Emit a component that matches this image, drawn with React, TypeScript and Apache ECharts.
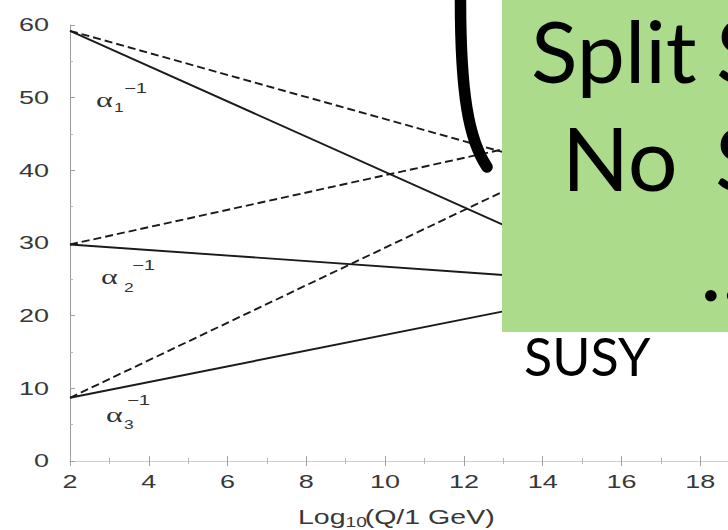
import React, { useEffect, useRef } from "react";
import * as echarts from "echarts";

// log10(Q / 1 GeV) at the two ends of each running line
const logQ = [2, 13];

// inverse couplings, Standard Model (solid) and SUSY (dashed)
const alpha1SM = [59.2, 32.5];
const alpha1SUSY = [59.2, 42.5];
const alpha2SM = [29.8, 25.6];
const alpha2SUSY = [29.8, 42.9];
const alpha3SM = [8.7, 20.6];
const alpha3SUSY = [8.7, 37.1];

const xTickLabels = [2, 4, 6, 8, 10, 12, 14, 16, 18];
const yTickLabels = [0, 10, 20, 30, 40, 50, 60];

const LINE_COLOR = "#1a1a1a";
const LABEL_COLOR = "#383838";
const STRETCH = 1.5;

// the plot runs on past the right edge of the visible frame
const CHART_WIDTH = 800;
const CHART_HEIGHT = 530;

const pairs = (ys: number[]) => logQ.map((x, i) => [x, ys[i]]);

const lineSeries = (name: string, ys: number[], dashed: boolean) => ({
  name,
  type: "line",
  data: pairs(ys),
  symbol: "none",
  silent: true,
  lineStyle: {
    color: LINE_COLOR,
    width: 1.9,
    type: dashed ? [8, 4] : "solid",
  },
  z: 2,
});

const axisBase = {
  type: "value",
  axisLine: { show: true, lineStyle: { color: "#b4b4b4", width: 1 } },
  axisTick: { show: true, inside: true, length: 5, lineStyle: { color: "#a0a0a0" } },
  minorTick: { show: true, splitNumber: 2, length: 3, lineStyle: { color: "#b8b8b8" } },
  axisLabel: { show: false },
  splitLine: { show: false },
};

function alphaLabel(x: number, y: number, sub: string, subDx: number, subDy: number, supDx: number, supDy: number) {
  return {
    type: "group",
    x,
    y,
    scaleX: 1.45,
    z: 10,
    children: [
      {
        type: "text",
        x: 0,
        y: 0,
        style: {
          text: "α",
          fontSize: 22,
          fontFamily: "Liberation Serif",
          fill: "#333",
          align: "left",
          verticalAlign: "middle",
        },
      },
      {
        type: "text",
        x: subDx,
        y: subDy,
        style: {
          text: sub,
          fontSize: 12,
          fontFamily: "Liberation Sans",
          fill: "#333",
          align: "left",
          verticalAlign: "middle",
        },
      },
      {
        type: "text",
        x: supDx,
        y: supDy,
        style: {
          text: "−1",
          fontSize: 14,
          fontFamily: "Liberation Sans",
          fill: "#333",
          align: "left",
          verticalAlign: "middle",
        },
      },
    ],
  };
}

export default function App() {
  const ref = useRef<HTMLDivElement>(null);

  useEffect(() => {
    if (!ref.current) return;
    const chart = echarts.init(ref.current, null, { renderer: "svg" });

    chart.setOption({
      animation: false,
      backgroundColor: "#ffffff",
      grid: { left: 70, right: 21, top: 25, bottom: 69 },
      xAxis: [
        { ...axisBase, position: "bottom", min: 2, max: 20, interval: 2 },
        { ...axisBase, position: "top", min: 2, max: 20, interval: 2, axisLine: { show: true, lineStyle: { color: "#cfcfcf" } } },
      ],
      yAxis: [
        { ...axisBase, position: "left", min: 0, max: 60, interval: 10, axisLine: { show: true, lineStyle: { color: "#9a9a9a" } } },
        { ...axisBase, position: "right", min: 0, max: 60, interval: 10 },
      ],
      series: [
        lineSeries("α1 SM", alpha1SM, false),
        lineSeries("α1 SUSY", alpha1SUSY, true),
        lineSeries("α2 SM", alpha2SM, false),
        lineSeries("α2 SUSY", alpha2SUSY, true),
        lineSeries("α3 SM", alpha3SM, false),
        lineSeries("α3 SUSY", alpha3SUSY, true),
      ],
    });

    const elements: any[] = [];

    // tick labels placed through the axis scales, drawn horizontally stretched
    const axisY0 = chart.convertToPixel({ yAxisIndex: 0 }, 0) as number;
    const axisX0 = chart.convertToPixel({ xAxisIndex: 0 }, 2) as number;
    xTickLabels.forEach((v) => {
      const px = chart.convertToPixel({ xAxisIndex: 0 }, v) as number;
      elements.push({
        type: "text",
        x: px,
        y: axisY0 + 21,
        scaleX: STRETCH,
        z: 10,
        style: {
          text: String(v),
          fontSize: 18,
          fontFamily: "Liberation Sans",
          fill: LABEL_COLOR,
          align: "center",
          verticalAlign: "middle",
        },
      });
    });
    yTickLabels.forEach((v) => {
      const py = chart.convertToPixel({ yAxisIndex: 0 }, v) as number;
      elements.push({
        type: "text",
        x: axisX0 - 21,
        y: py,
        scaleX: STRETCH,
        z: 10,
        style: {
          text: String(v),
          fontSize: 18,
          fontFamily: "Liberation Sans",
          fill: LABEL_COLOR,
          align: "right",
          verticalAlign: "middle",
        },
      });
    });

    // x axis title: Log10(Q/1 GeV)
    const nameFont = { fontFamily: "Liberation Sans", fill: LABEL_COLOR, align: "left", verticalAlign: "middle" };
    elements.push({
      type: "group",
      x: 298,
      y: 516,
      scaleX: 1.36,
      z: 10,
      children: [
        { type: "text", x: 0, y: 0, style: { ...nameFont, text: "Log", fontSize: 21 } },
        { type: "text", x: 35, y: 6, style: { ...nameFont, text: "10", fontSize: 14 } },
        { type: "text", x: 49, y: 0, style: { ...nameFont, text: "(Q/1 GeV)", fontSize: 21 } },
      ],
    });

    // coupling labels
    elements.push(alphaLabel(96, 100, "1", 12.4, 8, 19.3, -12));
    elements.push(alphaLabel(101, 277, "2", 15.9, 11, 21.4, -12));
    elements.push(alphaLabel(106, 415, "3", 12.4, 10, 14.5, -15));

    // green callout box with its caption
    elements.push({
      type: "rect",
      z: 20,
      shape: { x: 502, y: -5, width: 240, height: 337 },
      style: { fill: "#acdb8b" },
    });
    const calloutFont = { fontFamily: "Lato", fill: "#000000", align: "left", verticalAlign: "middle" };
    elements.push({ type: "text", z: 21, x: 531, y: 49, style: { ...calloutFont, text: "Split", fontSize: 86 } });
    elements.push({ type: "text", z: 21, x: 716, y: 49, style: { ...calloutFont, text: "S", fontSize: 88 } });
    elements.push({ type: "text", z: 21, x: 562, y: 157, style: { ...calloutFont, text: "No", fontSize: 88 } });
    elements.push({ type: "text", z: 21, x: 715, y: 157, style: { ...calloutFont, text: "S", fontSize: 88 } });
    elements.push({ type: "text", z: 21, x: 700, y: 265, style: { ...calloutFont, text: "...", fontSize: 92 } });
    elements.push({ type: "text", z: 21, x: 524, y: 356, style: { ...calloutFont, text: "SUSY", fontSize: 52 } });

    // hand-drawn bracket
    elements.push({
      type: "bezierCurve",
      z: 21,
      shape: { x1: 460.5, y1: -8, cpx1: 460, cpy1: 95, cpx2: 469, cpy2: 140, x2: 487, y2: 167 },
      style: { stroke: "#000000", lineWidth: 11.5, lineCap: "round", fill: null },
    });

    chart.setOption({ graphic: { elements } });

    return () => chart.dispose();
  }, []);

  return (
    <div style={{ position: "absolute", left: 0, top: 0, width: 728, height: 530, overflow: "hidden" }}>
      <div ref={ref} style={{ width: CHART_WIDTH, height: CHART_HEIGHT }} />
    </div>
  );
}
